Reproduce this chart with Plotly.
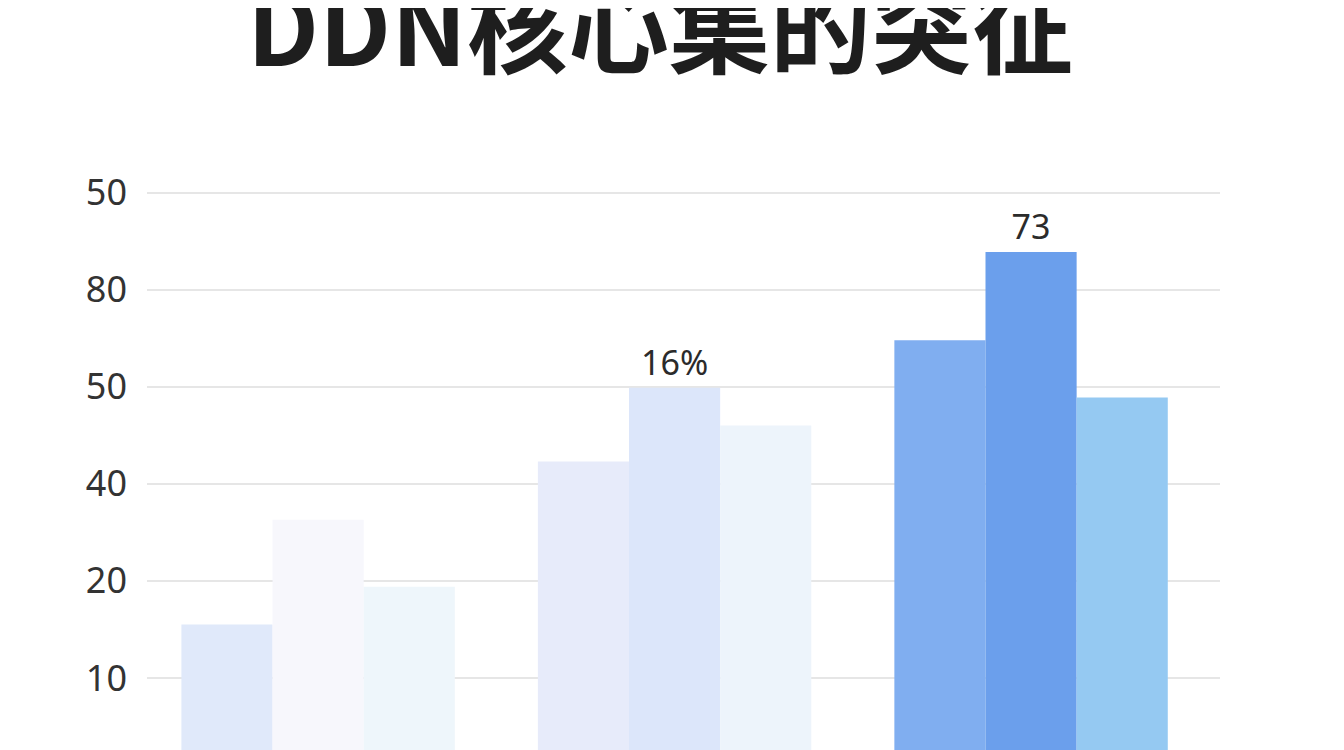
import plotly.graph_objects as go

# 数据
groups = ["组一", "组二", "组三"]
series_names = ["系列A", "系列B", "系列C"]
series_a = [15.5, 32.3, 44.8]
series_b = [26.3, 39.9, 53.9]
series_c = [19.4, 36.0, 38.9]
series_b_labels = ["", "16%", "73"]

tick_vals = [10, 20, 30, 40, 50, 60]
tick_text = ["10", "20", "40", "50", "80", "50"]

colors_a = ["#e0e9fa", "#e7ebfa", "#80aef0"]
colors_b = ["#f7f7fc", "#dce6fa", "#6b9fec"]
colors_c = ["#eef6fb", "#edf4fb", "#95c9f2"]

fig = go.Figure()
for name, vals, cols, txt in zip(
        series_names,
        [series_a, series_b, series_c],
        [colors_a, colors_b, colors_c],
        [None, series_b_labels, None]):
    fig.add_trace(go.Bar(
        x=groups, y=vals, name=name,
        marker=dict(color=cols, line=dict(width=0)),
        text=txt,
        textposition="outside",
        cliponaxis=False,
        textfont=dict(family="Noto Sans, DejaVu Sans", size=34, color="#2b2b2b"),
    ))

# 标题（顶部略被裁切）
fig.add_annotation(
    text="<b>DDN核心集的突征</b>",
    xref="paper", yref="paper", x=0.478, y=1.211,
    xanchor="center", yanchor="middle", showarrow=False,
    font=dict(family="Noto Sans CJK SC", size=101, color="#1e1e1e"),
)

fig.update_layout(
    width=1344, height=750,
    margin=dict(l=139, r=132, t=142, b=0),
    paper_bgcolor="white", plot_bgcolor="white",
    barmode="group", bargap=0.233, bargroupgap=0,
    showlegend=False,
    xaxis=dict(range=[-0.48, 2.53], showticklabels=False, showgrid=False,
               zeroline=False, showline=False, ticks=""),
    yaxis=dict(range=[1.75, 64.4], tickvals=tick_vals, ticktext=tick_text,
               showgrid=True, gridcolor="#e6e6e6", gridwidth=1.5,
               zeroline=False, showline=False, ticks="",
               ticklabelstandoff=19,
               tickfont=dict(family="Noto Sans, DejaVu Sans", size=36, color="#333333")),
)

fig.write_html("out.html")
